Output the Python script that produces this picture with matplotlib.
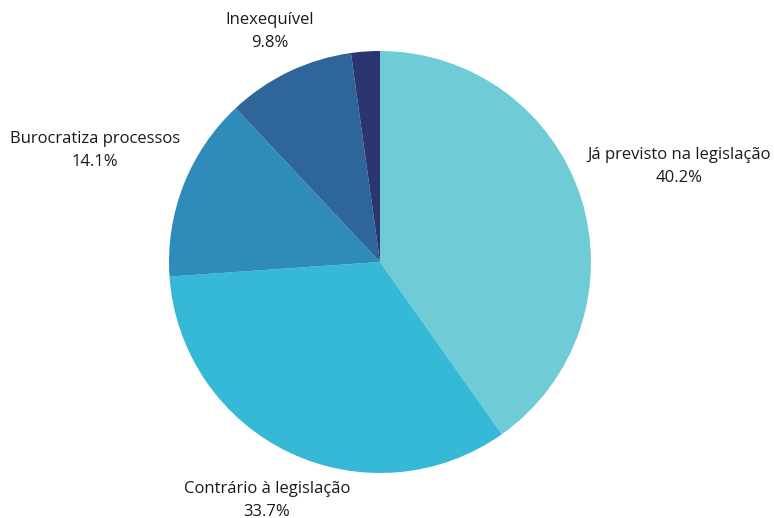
import matplotlib
matplotlib.use("Agg")
import matplotlib.pyplot as plt
import numpy as np

categories = ["Já previsto na legislação", "Contrário à legislação", "Burocratiza processos", "Inexequível", ""]
values = [40.2, 33.7, 14.1, 9.8, 2.2]
colors = ["#6FCCD6", "#35B9D7", "#2E8BBA", "#2E6699", "#2B3570"]
label_dist = [1.49, 1.25, 1.45, 1.21, None]

plt.rcParams['font.family'] = ['Open Sans', 'DejaVu Sans']

fig = plt.figure(figsize=(7.74, 5.18), dpi=100)
ax = fig.add_axes([169/774, 45/518, 422/774, 422/518])
wedges, _ = ax.pie(values, colors=colors, startangle=90, counterclock=False,
                   radius=1.0, wedgeprops=dict(linewidth=0))
ax.set_xlim(-1, 1)
ax.set_ylim(-1, 1)
ax.set_aspect('equal')
ax.axis('off')

for w, cat, v, d in zip(wedges, categories, values, label_dist):
    if not cat:
        continue
    ang = np.deg2rad((w.theta1 + w.theta2) / 2)
    x, y = d * np.cos(ang), d * np.sin(ang)
    ax.text(x, y, f"{cat}\n{v:.1f}%", ha='center', va='center', fontsize=12,
            color='#1a1a1a', linespacing=1.6, clip_on=False)

fig.savefig("out.png", dpi=100)
